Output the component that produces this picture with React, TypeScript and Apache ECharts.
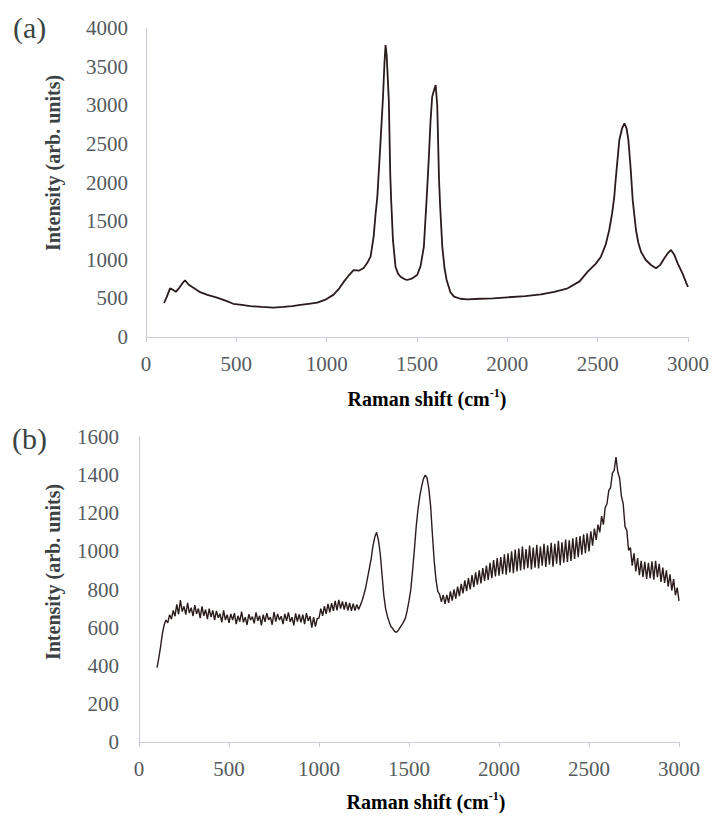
import React, { useEffect, useRef } from "react";
import * as echarts from "echarts";

// Panel (a): Raman spectrum, shift (cm-1) and intensity
const ramanShiftA = [
  100, 115, 133, 150, 165, 185, 200, 216, 235, 260, 300, 340, 393, 440, 483, 530, 577, 640, 705, 760,
  810, 854, 900, 948, 990, 1037, 1070, 1093, 1120, 1149, 1180, 1205, 1225, 1243, 1260, 1271, 1280, 1295,
  1311, 1320, 1326, 1332, 1344, 1352, 1357, 1367, 1381, 1395, 1409, 1430, 1446, 1470, 1501, 1520, 1538,
  1553, 1565, 1575, 1584, 1595, 1603, 1612, 1622, 1628, 1640, 1652, 1664, 1685, 1705, 1740, 1779, 1850,
  1920, 2001, 2100, 2186, 2260, 2334, 2400, 2445, 2490, 2518, 2545, 2564, 2580, 2592, 2598, 2610, 2620,
  2635, 2648, 2660, 2670, 2682, 2694, 2712, 2725, 2740, 2765, 2795, 2823, 2845, 2869, 2890, 2906, 2925,
  2943, 2970, 2990, 3000,
];
const intensityA = [
  440, 520, 630, 610, 585, 640, 690, 735, 680, 640, 580, 545, 510, 470, 430, 415, 400, 390, 380, 390,
  400, 415, 430, 445, 480, 545, 630, 710, 790, 865, 860, 893, 960, 1040, 1300, 1600, 1800, 2400,
  3070, 3550, 3780, 3650, 3070, 2100, 1773, 1250, 910, 820, 780, 750, 738, 755, 802, 920, 1170,
  1773, 2300, 2800, 3110, 3200, 3262, 3000, 2032, 1700, 1169, 900, 738, 580, 522, 495, 488, 495,
  500, 514, 530, 553, 585, 630, 720, 846, 950, 1040, 1200, 1385, 1600, 1816, 1990, 2300, 2550,
  2700, 2766, 2700, 2550, 2200, 1773, 1385, 1220, 1104, 1000, 932, 889, 930, 1019, 1090, 1126, 1060,
  954, 820, 700, 650,
];

// Panel (b): noisy spectrum sampled every 10 cm-1 from 100 to 3000 cm-1
const shiftStartB = 100;
const shiftStepB = 10;
const intensityB = [
  390, 440, 500, 570, 615, 640, 625, 668, 645, 690,
  660, 722, 670, 745, 684, 712, 668, 730, 676, 705,
  660, 718, 672, 700, 650, 712, 662, 695, 645, 700,
  655, 690, 640, 688, 652, 672, 628, 690, 640, 668,
  625, 672, 640, 676, 618, 662, 632, 684, 628, 655,
  615, 670, 640, 658, 622, 680, 636, 662, 612, 668,
  630, 676, 640, 655, 615, 682, 632, 672, 640, 660,
  618, 672, 636, 680, 630, 655, 612, 675, 632, 670,
  628, 668, 618, 676, 635, 660, 600, 655, 605, 648,
  650, 700, 662, 712, 672, 725, 680, 728, 688, 740,
  690, 745, 700, 738, 695, 735, 690, 730, 688, 726,
  690, 722, 695, 718, 742, 775, 812, 862, 912, 962,
  1030, 1075, 1100, 1060, 990, 880, 770, 700, 660, 630,
  605, 595, 580, 575, 585, 600, 615, 630, 650, 690,
  740, 800, 900, 1010, 1130, 1220, 1290, 1340, 1380, 1400,
  1385, 1330, 1240, 1090, 950, 850, 790, 775, 735, 772,
  725, 772, 730, 790, 742, 800, 752, 815, 765, 830,
  780, 848, 792, 860, 800, 875, 812, 890, 825, 900,
  832, 912, 845, 925, 850, 940, 860, 955, 868, 965,
  872, 970, 880, 985, 878, 990, 890, 1000, 886, 1010,
  895, 1015, 900, 1025, 905, 1012, 912, 1030, 905, 1020,
  915, 1035, 910, 1025, 925, 1040, 918, 1032, 930, 1045,
  920, 1040, 935, 1055, 928, 1048, 940, 1062, 945, 1058,
  950, 1068, 960, 1075, 970, 1080, 982, 1090, 990, 1095,
  1000, 1105, 1030, 1120, 1060, 1140, 1100, 1185, 1140, 1230,
  1250, 1320, 1335, 1410, 1425, 1495, 1415, 1385, 1290, 1250,
  1130, 1110, 1005, 1020, 925, 990, 895, 965, 875, 950,
  865, 945, 855, 940, 860, 948, 852, 950, 865, 935,
  840, 915, 835, 900, 815, 880, 795, 855, 770, 810,
  740,
];

const panelLabels = ["(a)", "(b)"];
const xAxisTitle = "Raman shift (cm";
const xAxisTitleSup = "-1";
const yAxisTitle = "Intensity (arb. units)";

const SERIF = "Liberation Serif";
const AXIS_COLOR = "#c9cbdc";
const TICK_TEXT = "#555a5e";
const TITLE_TEXT = "#3c4144";
const LINE_COLOR = "#2a1c1c";

const plainNumber = (v: number) => String(v);

function xAxisOf(gridIndex: number) {
  return {
    type: "value" as const,
    gridIndex,
    min: 0,
    max: 3000,
    interval: 500,
    axisLine: { show: true, lineStyle: { color: AXIS_COLOR, width: 1 } },
    axisTick: { show: true, length: 5, lineStyle: { color: AXIS_COLOR } },
    axisLabel: { fontFamily: SERIF, fontSize: 21, color: TICK_TEXT, margin: 16, formatter: plainNumber },
    splitLine: { show: false },
  };
}

function yAxisOf(gridIndex: number, max: number, interval: number, margin: number) {
  return {
    type: "value" as const,
    gridIndex,
    min: 0,
    max,
    interval,
    axisLine: { show: true, lineStyle: { color: AXIS_COLOR, width: 1 } },
    axisTick: { show: false },
    axisLabel: { fontFamily: SERIF, fontSize: 21, color: TICK_TEXT, margin, formatter: plainNumber },
    splitLine: { show: false },
  };
}

function xTitle(cx: number, cy: number) {
  return {
    type: "text",
    x: cx,
    y: cy,
    style: {
      text: `{n|${xAxisTitle}}{s|${xAxisTitleSup}}{n|)}`,
      align: "center",
      verticalAlign: "middle",
      textAlign: "center",
      textVerticalAlign: "middle",
      rich: {
        n: { fontFamily: SERIF, fontWeight: "bold", fontSize: 20, color: TITLE_TEXT, lineHeight: 22, verticalAlign: "bottom" },
        s: { fontFamily: SERIF, fontWeight: "bold", fontSize: 12, color: TITLE_TEXT, lineHeight: 12, verticalAlign: "top" },
      },
    },
  };
}

function yTitle(cx: number, cy: number) {
  return {
    type: "text",
    x: cx,
    y: cy,
    rotation: Math.PI / 2,
    style: {
      text: yAxisTitle,
      font: `bold 20px "${SERIF}"`,
      fill: TITLE_TEXT,
      align: "center",
      verticalAlign: "middle",
      textAlign: "center",
      textVerticalAlign: "middle",
    },
  };
}

function panelTag(text: string, x: number, cy: number) {
  return {
    type: "text",
    x,
    y: cy,
    style: {
      text,
      font: `30px "${SERIF}"`,
      fill: "#3a4543",
      align: "left",
      verticalAlign: "middle",
      textAlign: "left",
      textVerticalAlign: "middle",
    },
  };
}

export default function App() {
  const ref = useRef<HTMLDivElement>(null);

  useEffect(() => {
    if (!ref.current) return;
    const chart = echarts.init(ref.current, undefined, { renderer: "svg" });

    const dataA = ramanShiftA.map((x, i) => [x, intensityA[i]]);
    const dataB = intensityB.map((v, i) => [shiftStartB + i * shiftStepB, v]);

    chart.setOption({
      animation: false,
      backgroundColor: "#ffffff",
      grid: [
        { left: 146, top: 28, width: 542, height: 309 },
        { left: 139, top: 437, width: 540, height: 305 },
      ],
      xAxis: [xAxisOf(0), xAxisOf(1)],
      yAxis: [yAxisOf(0, 4000, 500, 18), yAxisOf(1, 1600, 200, 20)],
      series: [
        {
          type: "line",
          xAxisIndex: 0,
          yAxisIndex: 0,
          data: dataA,
          showSymbol: false,
          symbol: "none",
          silent: true,
          lineStyle: { color: LINE_COLOR, width: 1.8 },
        },
        {
          type: "line",
          xAxisIndex: 1,
          yAxisIndex: 1,
          data: dataB,
          showSymbol: false,
          symbol: "none",
          silent: true,
          lineStyle: { color: LINE_COLOR, width: 1.4 },
        },
      ],
      graphic: [
        panelTag(panelLabels[0], 13, 27),
        panelTag(panelLabels[1], 12, 438),
        yTitle(53, 163),
        yTitle(53, 572),
        xTitle(427, 398),
        xTitle(426, 801),
      ],
    });

    return () => chart.dispose();
  }, []);

  return (
    <div
      ref={ref}
      style={{ position: "fixed", left: 0, top: 0, width: 714, height: 816, background: "#fff" }}
    />
  );
}
